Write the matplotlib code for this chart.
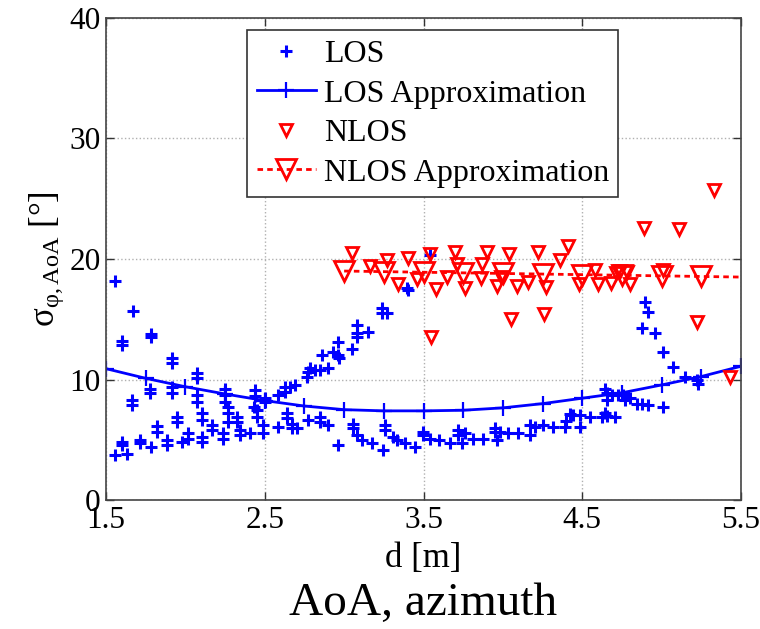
import numpy as np
import matplotlib
matplotlib.use("Agg")
import matplotlib.pyplot as plt

plt.rcParams['font.family'] = ['Liberation Serif', 'DejaVu Serif']
plt.rcParams['mathtext.fontset'] = 'custom'
plt.rcParams['mathtext.rm'] = 'Liberation Serif'
plt.rcParams['mathtext.it'] = 'Liberation Serif:italic'

# LOS measurements (d [m], sigma [deg])
los_d = [1.557, 1.672, 1.781, 1.781, 1.599, 1.599, 1.914, 1.914,
         1.777, 1.777, 1.662, 1.662, 1.914, 1.914, 2.071, 2.071,
         2.071, 2.071, 1.949, 1.949, 1.819, 1.819, 1.599, 1.599,
         1.557, 1.634, 1.714, 1.714, 1.783, 1.882, 1.882, 1.977,
         2.015, 2.015, 2.103, 2.103, 2.103, 2.103, 2.166, 2.166,
         2.25, 2.25, 2.25, 2.27, 2.27, 2.27, 2.239, 2.239,
         2.323, 2.323, 2.344, 2.344, 2.407, 2.439, 2.439, 2.43, 2.45, 2.449,
         2.491, 2.491, 2.502, 2.502, 2.585, 2.585, 2.628, 2.628, 2.659, 2.69,
         2.638, 2.638, 2.67, 2.67, 2.701, 2.774, 2.764, 2.774, 2.785, 2.817, 2.848, 2.859, 2.9,
         2.848, 2.848, 2.9, 2.932, 2.963, 2.963, 2.97, 3.048, 3.079, 3.079, 3.079, 3.152,
         2.963, 3.058, 3.058, 3.079, 3.111, 3.174, 3.237, 3.268, 3.237, 3.247, 3.257, 3.257,
         3.31, 3.331, 3.383, 3.394, 3.40, 3.54,
         3.446, 3.499, 3.499, 3.541, 3.6, 3.667, 3.719, 3.719, 3.741, 3.761, 3.814, 3.877,
         3.95, 3.95, 3.961, 3.982, 4.034, 4.097, 4.171, 4.171, 4.202, 4.255, 4.318,
         4.39, 4.40, 4.42, 4.444, 4.486, 4.486, 4.549, 4.623, 4.643, 4.654, 4.706,
         4.643, 4.654, 4.654, 4.685, 4.727, 4.759, 4.77, 4.801, 4.843, 4.874, 4.916, 5.011,
         4.895, 4.916, 4.874, 4.958, 5.011, 5.074, 5.147, 5.221, 5.231]
los_s = [18.2, 15.7, 13.8, 13.55, 13.2, 12.85, 11.75, 11.35,
         9.25, 8.85, 8.3, 7.9, 9.4, 8.85, 10.5, 10.1,
         8.7, 8.15, 6.9, 6.5, 6.15, 5.65, 4.85, 4.55,
         3.75, 3.85, 5.0, 4.75, 4.4, 5.0, 4.55, 4.85,
         5.55, 5.1, 7.2, 6.65, 5.25, 4.85, 6.2, 5.8,
         9.25, 8.7, 8.15, 7.75, 7.2, 6.5, 5.55, 5.1,
         6.9, 6.5, 5.8, 5.4, 5.6, 9.1, 8.6, 7.75, 7.45, 6.9,
         6.2, 5.55, 8.45, 8.15, 6.1, 8.7, 9.4, 9.0, 9.4, 9.55,
         7.2, 6.8, 6.35, 5.95, 5.95, 6.65, 10.25, 10.65, 10.95, 10.8, 10.8, 12.05, 10.95,
         6.9, 6.5, 6.2, 12.3, 13.15, 12.05, 11.75, 12.5, 14.5, 13.85, 13.55, 13.95,
         4.55, 6.35, 5.95, 5.4, 5.0, 4.7, 15.9, 15.55, 15.5, 4.15, 6.2, 5.8,
         5.25, 5.0, 4.7, 17.6, 17.45, 20.3,
         4.4, 5.65, 5.4, 5.1, 5.0, 4.7, 5.8, 5.4, 4.7, 5.55, 5.1, 5.1,
         5.95, 5.65, 5.0, 5.65, 5.55, 5.55, 6.2, 5.4, 6.1, 6.2, 6.1,
         6.1, 6.6, 7.1, 7.05, 7.05, 6.1, 6.9, 6.9, 7.2, 6.95, 6.9,
         9.25, 8.85, 8.3, 8.7, 8.7, 8.7, 8.3, 8.45, 8.0, 8.0, 7.9, 7.75,
         16.4, 15.6, 14.25, 13.9, 12.3, 11.0, 10.25, 9.95, 9.65]

# LOS approximation
los_fit_d = [1.5, 1.75, 2.0, 2.25, 2.5, 2.75, 3.0, 3.25, 3.5, 3.75, 4.0, 4.25, 4.5, 4.75, 5.0, 5.25, 5.5]
los_fit_s = [10.9, 10.1, 9.4, 8.8, 8.25, 7.8, 7.5, 7.4, 7.4, 7.45, 7.65, 8.0, 8.45, 8.9, 9.55, 10.25, 11.1]

# NLOS measurements
nlos_d = [3.05, 3.16, 3.27, 3.40, 3.34, 3.46, 3.54, 3.58, 3.545, 3.70, 3.71, 3.65, 3.76,
          3.86, 3.87, 3.90, 3.96, 3.99, 4.04, 4.05, 4.09, 4.16, 4.22, 4.27, 4.26, 4.36,
          4.41, 4.48, 4.58, 4.60, 4.68, 4.71, 4.74, 4.78, 4.80, 4.89, 5.01, 5.11, 5.22,
          5.33, 5.43]
nlos_s = [20.5, 19.4, 19.9, 20.1, 17.9, 18.3, 20.4, 17.5, 13.5, 20.6, 19.6, 18.5, 17.6,
          18.4, 19.6, 20.6, 17.8, 18.5, 20.4, 15.0, 17.8, 18.1, 20.6, 17.7, 15.4, 19.9,
          21.1, 17.9, 19.1, 17.9, 18.0, 18.8, 19.0, 18.9, 17.9, 22.6, 19.1, 22.5, 14.8,
          25.7, 10.2]

# NLOS approximation
nlos_fit_d = [3.0, 3.25, 3.5, 3.75, 4.0, 4.25, 4.5, 4.75, 5.0, 5.25, 5.5]
nlos_fit_s = [19.0, 18.95, 18.9, 18.85, 18.8, 18.75, 18.7, 18.65, 18.6, 18.55, 18.5]

fig = plt.figure(figsize=(7.6, 6.29), dpi=100)
ax = fig.add_axes([0.1395, 0.205, 0.8355, 0.7665])

ax.plot(los_d, los_s, '+', color='#0000ff', ms=8, mew=2.2, label='LOS')
ax.plot(los_fit_d, los_fit_s, '-+', color='#0000ff', lw=2.0, ms=11, mew=1.6,
        label='LOS Approximation')
ax.plot(nlos_d, nlos_s, 'v', color='#ff0000', mfc='none', ms=8, mew=2.0,
        ls='none', label='NLOS')
ax.plot(nlos_fit_d, nlos_fit_s, color='#ff0000', ls=(0, (2, 1.5)), lw=2.0,
        marker='v', mfc='none', ms=15, mew=2.0, markevery=slice(0, -1),
        label='NLOS Approximation')

ax.set_xlim(1.5, 5.5)
ax.set_ylim(0, 40)
ax.set_xticks([1.5, 2.5, 3.5, 4.5, 5.5])
ax.set_yticks([0, 10, 20, 30, 40])
ax.set_xticklabels(['1.5', '2.5', '3.5', '4.5', '5.5'], fontfamily='Liberation Serif')
ax.set_yticklabels(['0', '10', '20', '30', '40'], fontfamily='Liberation Serif')
ax.tick_params(direction='in', length=6, width=1, top=True, right=True,
               labelsize=22.5, pad=4, colors='#333333', labelcolor='black')
ax.grid(True, ls=':', color='#b0b0b0', lw=1)
for sp in ax.spines.values():
    sp.set_color('#444444')
    sp.set_linewidth(1.2)

ax.set_xlabel('d [m]', fontsize=25, labelpad=5)
ax.set_ylabel(r'$\mathrm{σ}_{\mathrm{φ,AoA}}$ [°]', fontsize=25, labelpad=2)

leg = ax.legend(loc='upper left', bbox_to_anchor=(0.222, 0.975), fontsize=23,
                frameon=True, fancybox=False, framealpha=1, edgecolor='#333333',
                handlelength=1.85, handletextpad=0.25, labelspacing=0.32,
                borderpad=0.3, borderaxespad=0, numpoints=1)
leg.get_frame().set_linewidth(1.2)

fig.text(0.557, 0.04, 'AoA, azimuth', ha='center', va='center', fontsize=34)

fig.savefig('out.png', dpi=100)
